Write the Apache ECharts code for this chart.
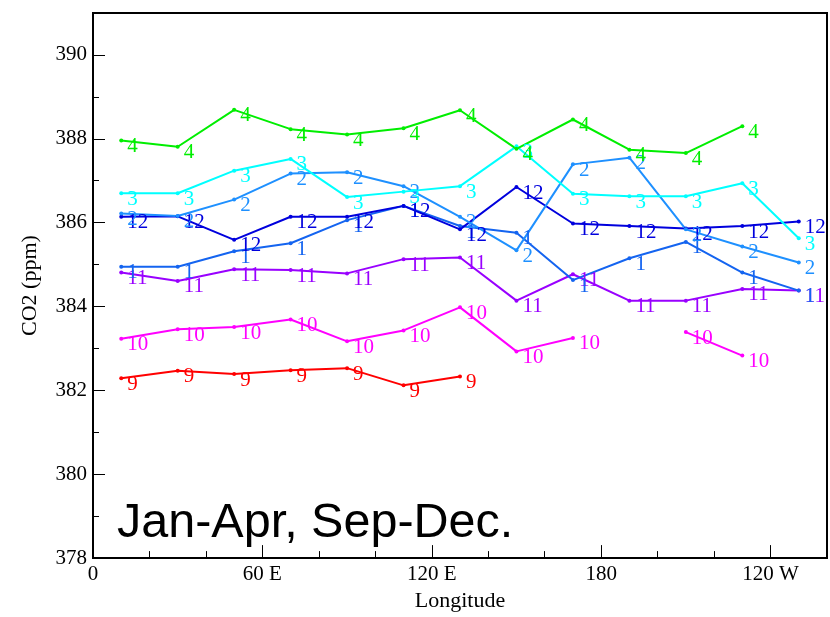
<!DOCTYPE html>
<html>
<head>
<meta charset="utf-8">
<script src="https://cdn.jsdelivr.net/npm/echarts@6/dist/echarts.min.js"></script>
<style>html,body{margin:0;padding:0;background:#fff}#c{width:830px;height:617px}</style>
</head>
<body>
<div id="c"></div>
<script>
// Longitudes (degrees east, 0..360)
const longitudes = [10, 30, 50, 70, 90, 110, 130, 150, 170, 190, 210, 230, 250];
// Month series values (ppm); null = no data
const month4  = [387.96, 387.81, 388.69, 388.23, 388.10, 388.25, 388.68, 387.76, 388.46, 387.74, 387.66, 388.30, null];
const month3  = [386.70, 386.70, 387.24, 387.52, 386.61, 386.74, 386.87, 387.82, 386.69, 386.63, 386.63, 386.94, 385.63];
const month2  = [386.22, 386.16, 386.55, 387.17, 387.20, 386.87, 386.14, 385.34, 387.39, 387.55, 385.84, 385.43, 385.05];
const month12 = [386.14, 386.15, 385.59, 386.14, 386.14, 386.40, 385.84, 386.85, 385.98, 385.92, 385.86, 385.92, 386.03];
const month1  = [384.95, 384.95, 385.32, 385.51, 386.06, 386.40, 385.92, 385.76, 384.63, 385.15, 385.54, 384.81, 384.38];
const month11 = [384.81, 384.61, 384.89, 384.87, 384.79, 385.13, 385.17, 384.14, 384.77, 384.14, 384.14, 384.42, 384.38];
const month10 = [383.23, 383.46, 383.51, 383.69, 383.17, 383.43, 383.98, 382.93, 383.25, null, 383.39, 382.83, null];
const month9  = [382.29, 382.47, 382.39, 382.48, 382.53, 382.12, 382.33, null, null, null, null, null, null];
// Tick labels
const xTickValues = [0, 60, 120, 180, 240];
const xTickLabels = ['0', '60 E', '120 E', '180', '120 W'];
const yTickValues = [378, 380, 382, 384, 386, 388, 390];

const seriesDefs = [
  {name: '9',  data: month9,  color: '#ff0000'},
  {name: '10', data: month10, color: '#ff00ff'},
  {name: '11', data: month11, color: '#9900ff'},
  {name: '1',  data: month1,  color: '#1464f0'},
  {name: '12', data: month12, color: '#0000dd'},
  {name: '2',  data: month2,  color: '#1e90ff'},
  {name: '3',  data: month3,  color: '#00ffff'},
  {name: '4',  data: month4,  color: '#00ee00'}
];

const serif = 'Liberation Serif';
const chart = echarts.init(document.getElementById('c'), null, {renderer: 'canvas'});
chart.setOption({
  animation: false,
  backgroundColor: '#fff',
  grid: {left: 93, right: 2, top: 13, bottom: 57, show: true, borderColor: '#000', borderWidth: 2, containLabel: false},
  graphic: [{
    type: 'text', left: 117, top: 499,
    style: {text: 'Jan-Apr, Sep-Dec.', font: '48.5px "Liberation Sans"', fill: '#000'}
  }],
  xAxis: [{
    type: 'value', min: 0, max: 260, interval: 60,
    name: 'Longitude', nameLocation: 'middle', nameGap: 31,
    nameTextStyle: {fontFamily: serif, fontSize: 22, color: '#000'},
    axisLine: {show: true, lineStyle: {color: '#000', width: 2}},
    axisTick: {show: true, inside: true, length: 13, lineStyle: {color: '#000', width: 1}},
    axisLabel: {
      fontFamily: serif, fontSize: 21, color: '#000', margin: 6,
      formatter: v => { const i = xTickValues.indexOf(v); return i >= 0 ? xTickLabels[i] : ''; }
    },
    splitLine: {show: false}
  }, {
    type: 'value', min: 0, max: 260, interval: 20, position: 'bottom',
    axisLine: {show: false},
    axisTick: {show: true, inside: true, length: 7, lineStyle: {color: '#000', width: 1}},
    axisLabel: {show: false}, splitLine: {show: false}
  }],
  yAxis: [{
    type: 'value', min: 378, max: 391, interval: 2,
    name: 'CO2 (ppm)', nameLocation: 'middle', nameGap: 52,
    nameTextStyle: {fontFamily: serif, fontSize: 22, color: '#000'},
    axisLine: {show: true, lineStyle: {color: '#000', width: 2}},
    axisTick: {show: true, inside: true, length: 12, lineStyle: {color: '#000', width: 1}},
    axisLabel: {
      fontFamily: serif, fontSize: 21, color: '#000', margin: 6,
      formatter: v => yTickValues.indexOf(v) >= 0 ? String(v) : ''
    },
    splitLine: {show: false}
  }, {
    type: 'value', min: 378, max: 391, interval: 1, position: 'left',
    axisLine: {show: false},
    axisTick: {show: true, inside: true, length: 6, lineStyle: {color: '#000', width: 1}},
    axisLabel: {show: false}, splitLine: {show: false}
  }],
  series: seriesDefs.map(s => ({
    type: 'line', name: s.name,
    xAxisIndex: 0, yAxisIndex: 0,
    data: longitudes.map((x, i) => [x, s.data[i]]),
    connectNulls: false,
    symbol: 'circle', symbolSize: 4,
    lineStyle: {color: s.color, width: 2},
    itemStyle: {color: s.color},
    label: {
      show: true, position: 'right', distance: 4, offset: [0, 6],
      formatter: () => s.name,
      fontFamily: serif, fontSize: 21, color: s.color
    }
  }))
});
</script>
</body>
</html>
